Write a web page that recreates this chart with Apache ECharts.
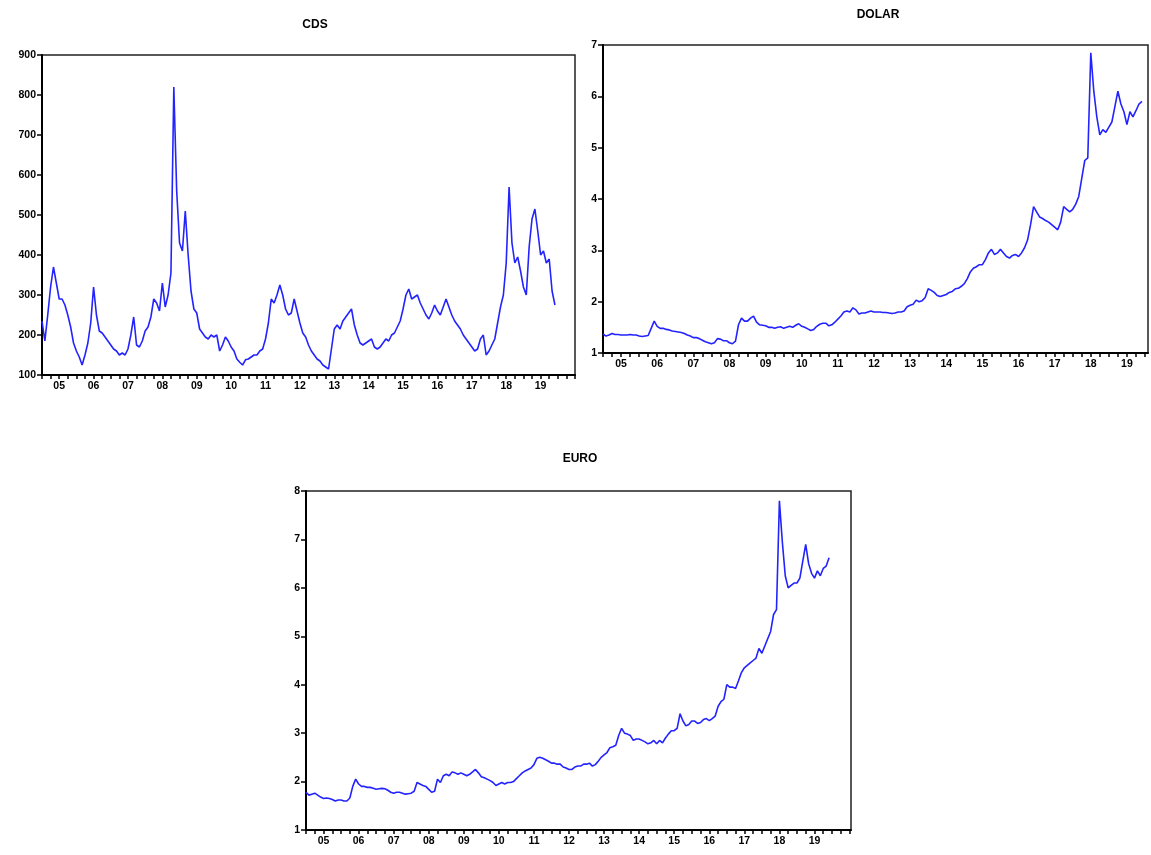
<!DOCTYPE html>
<html><head><meta charset="utf-8">
<script src="https://cdn.jsdelivr.net/npm/echarts@6/dist/echarts.min.js"></script>
<style>html,body{margin:0;padding:0;background:#fff}#c{width:1151px;height:855px}</style>
</head><body><div id="c"></div>
<script>
// Year labels (two-digit) shown at mid-year under each x axis
const yearLabels = ['05','06','07','08','09','10','11','12','13','14','15','16','17','18','19'];
// Monthly observations, Jan 2005 .. Dec 2019
const cds = [
 235,185,250,320,370,330,290,290,275,250,220,180,
 160,145,125,150,180,230,320,250,210,205,195,185,
 175,165,160,150,155,150,165,200,245,175,170,185,
 210,220,245,290,280,260,330,270,300,355,820,560,
 430,410,510,400,310,265,255,215,205,195,190,200,
 195,200,160,175,195,185,170,160,140,132,125,138,
 140,145,150,150,160,165,190,230,290,280,300,325,
 300,265,250,255,290,260,230,205,195,175,160,150,
 140,135,125,120,115,165,215,225,215,235,245,255,
 265,225,200,180,175,180,185,190,170,165,170,180,
 190,185,200,205,220,235,265,300,315,290,295,300,
 280,265,250,240,255,275,260,250,270,290,270,250,
 235,225,215,200,190,180,170,160,165,190,200,150,
 160,175,190,230,270,300,380,570,430,380,395,360,
 320,300,420,490,515,460,400,410,380,390,310,275
];
const dolar = [
 1.37,1.33,1.35,1.38,1.36,1.36,1.35,1.35,1.35,1.36,1.35,1.35,
 1.33,1.32,1.33,1.34,1.48,1.62,1.52,1.48,1.48,1.46,1.45,1.43,
 1.42,1.41,1.40,1.38,1.35,1.33,1.30,1.30,1.28,1.25,1.22,1.20,
 1.18,1.20,1.28,1.27,1.24,1.24,1.20,1.18,1.23,1.55,1.68,1.62,
 1.62,1.68,1.72,1.60,1.55,1.54,1.53,1.50,1.50,1.48,1.50,1.51,
 1.48,1.50,1.52,1.50,1.54,1.57,1.52,1.50,1.47,1.44,1.46,1.52,
 1.56,1.58,1.58,1.53,1.55,1.60,1.66,1.72,1.80,1.82,1.80,1.88,
 1.84,1.76,1.78,1.78,1.80,1.82,1.80,1.80,1.80,1.79,1.79,1.78,
 1.77,1.78,1.80,1.80,1.82,1.90,1.93,1.95,2.03,2.00,2.02,2.08,
 2.25,2.22,2.18,2.12,2.10,2.12,2.14,2.18,2.20,2.25,2.26,2.30,
 2.35,2.45,2.58,2.65,2.68,2.72,2.72,2.82,2.95,3.02,2.92,2.95,
 3.02,2.95,2.88,2.85,2.90,2.92,2.88,2.95,3.05,3.20,3.50,3.85,
 3.75,3.65,3.62,3.58,3.55,3.50,3.45,3.40,3.55,3.85,3.80,3.75,
 3.80,3.90,4.05,4.40,4.75,4.80,6.85,6.10,5.60,5.25,5.35,5.30,
 5.40,5.50,5.80,6.10,5.85,5.70,5.45,5.70,5.60,5.72,5.85,5.90
];
const euro = [
 1.78,1.72,1.74,1.76,1.72,1.68,1.65,1.66,1.65,1.63,1.60,1.62,
 1.62,1.60,1.60,1.66,1.90,2.05,1.95,1.90,1.90,1.88,1.88,1.86,
 1.84,1.85,1.86,1.85,1.82,1.78,1.76,1.78,1.78,1.76,1.74,1.75,
 1.76,1.80,1.98,1.95,1.92,1.90,1.84,1.78,1.80,2.05,1.98,2.12,
 2.15,2.12,2.20,2.18,2.15,2.18,2.15,2.12,2.15,2.20,2.25,2.18,
 2.10,2.08,2.05,2.02,1.98,1.92,1.95,1.98,1.95,1.98,1.98,2.00,
 2.06,2.12,2.18,2.22,2.25,2.28,2.35,2.48,2.50,2.48,2.45,2.42,
 2.38,2.38,2.36,2.36,2.30,2.28,2.25,2.25,2.30,2.32,2.32,2.36,
 2.36,2.38,2.32,2.35,2.42,2.50,2.55,2.60,2.70,2.72,2.75,2.95,
 3.10,3.00,2.98,2.95,2.85,2.88,2.88,2.85,2.82,2.78,2.80,2.85,
 2.78,2.85,2.80,2.90,2.98,3.05,3.05,3.10,3.40,3.25,3.15,3.18,
 3.25,3.25,3.20,3.22,3.28,3.30,3.26,3.30,3.35,3.55,3.65,3.70,
 4.00,3.95,3.95,3.92,4.08,4.25,4.35,4.40,4.45,4.50,4.55,4.75,
 4.65,4.80,4.95,5.10,5.45,5.55,7.80,6.95,6.25,6.00,6.05,6.10,
 6.10,6.20,6.55,6.90,6.50,6.30,6.20,6.35,6.25,6.40,6.45,6.62
];
const titles = ['CDS','DOLAR','EURO'];

const chart = echarts.init(document.getElementById('c'), null, {renderer:'canvas'});
const labelPos = yearLabels.map((_, i) => 6 + 12 * i);
const tickPos = []; for (let m = 0; m <= 186; m += 3) tickPos.push(m);
const toPairs = arr => arr.map((v, i) => [i, v]);

const panels = [
  {grid:{left:42, top:55, width:533, height:320}, xmax:186, ymin:100, ymax:900, yint:100, data:cds, tx:310, ty:14},
  {grid:{left:603, top:45, width:545, height:308}, xmax:181, ymin:1, ymax:7, yint:1, data:dolar, tx:873, ty:4},
  {grid:{left:306, top:491, width:545, height:339}, xmax:186.5, ymin:1, ymax:8, yint:1, data:euro, tx:575, ty:448}
];
const font = 'Liberation Sans, Arial, sans-serif';
const option = {
  animation:false,
  backgroundColor:'#fff',
  title: panels.map((p,i)=>({text:titles[i], left:p.tx, top:p.ty, textAlign:'center',
    textStyle:{fontSize:12, fontWeight:'bold', color:'#000', fontFamily:font}})),
  grid: panels.map(p=>Object.assign({show:true, borderColor:'#222', borderWidth:1.5, backgroundColor:'#fff', containLabel:false}, p.grid)),
  xAxis: panels.map((p,i)=>({
    type:'value', gridIndex:i, min:0, max:p.xmax,
    axisLine:{show:true, onZero:false, lineStyle:{color:'#000', width:2}},
    axisTick:{show:true, customValues:tickPos.filter(t=>t<=p.xmax), length:4, inside:false, lineStyle:{color:'#000', width:1.5}},
    axisLabel:{show:true, customValues:labelPos, margin:6, fontSize:10.5, fontWeight:'bold', color:'#000', fontFamily:font,
      formatter:v=>yearLabels[Math.round((v-6)/12)]},
    splitLine:{show:false}
  })),
  yAxis: panels.map((p,i)=>({
    type:'value', gridIndex:i, min:p.ymin, max:p.ymax, interval:p.yint,
    axisLine:{show:true, lineStyle:{color:'#000', width:2}},
    axisTick:{show:true, length:5, inside:false, lineStyle:{color:'#000', width:1.5}},
    axisLabel:{show:true, margin:6, fontSize:10.5, fontWeight:'bold', color:'#000', fontFamily:font},
    splitLine:{show:false}
  })),
  series: panels.map((p,i)=>({
    type:'line', xAxisIndex:i, yAxisIndex:i, data:toPairs(p.data), showSymbol:false, symbol:'none',
    lineStyle:{color:'#2323ff', width:1.6}, silent:true
  }))
};
chart.setOption(option);
</script>
</body></html>
